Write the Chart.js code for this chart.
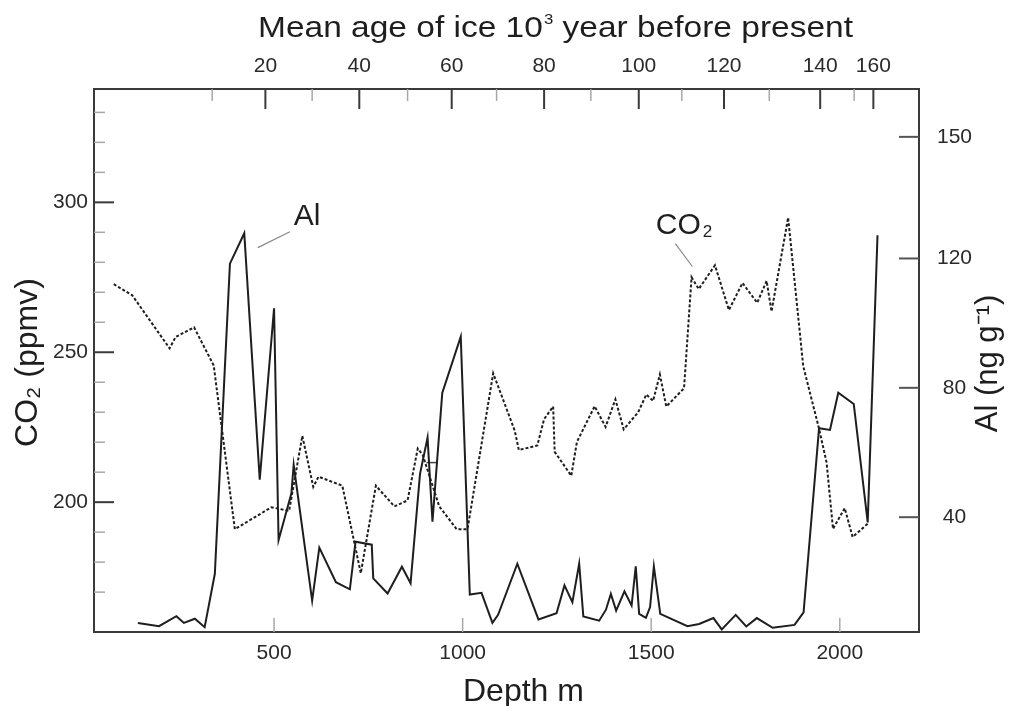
<!DOCTYPE html>
<html>
<head>
<meta charset="utf-8">
<script src="https://cdn.jsdelivr.net/npm/chart.js@4.4.0/dist/chart.umd.min.js"></script>
<style>
  html, body { margin: 0; padding: 0; background: #fff; }
</style>
</head>
<body>
<canvas id="chart" width="1014" height="706"></canvas>
<script>
// Al (ng g-1) vs depth (m), solid curve
const alDepth = [139, 195, 241, 261, 290, 316, 343, 383, 421, 462, 500, 512, 546, 552,
  601, 620, 664, 701, 716, 759, 763, 801, 839, 862, 887, 907, 920, 946, 995, 1019,
  1050, 1079, 1094, 1145, 1201, 1249, 1270, 1291, 1309, 1320, 1362, 1380, 1393, 1407,
  1429, 1448, 1459, 1468, 1486, 1497, 1507, 1524, 1596, 1627, 1665, 1687, 1724, 1752,
  1780, 1822, 1880, 1904, 1945, 1974, 1996, 2037, 2074, 2100];
const alValue = [7.3, 6.3, 9.4, 7.3, 8.6, 6.0, 22.5, 118.4, 127.8, 51.6, 104.6, 32.9, 47.4, 56.2,
  14.2, 30.6, 19.9, 17.7, 32.4, 31.5, 21.1, 16.4, 24.7, 19.6, 53.4, 64.6, 38.6, 78.4, 95.8, 16.1,
  16.6, 7.3, 9.8, 25.6, 8.4, 10.3, 18.9, 13.7, 25.6, 9.3, 8.0, 11.4, 16.3, 11.1,
  17.1, 12.7, 24.8, 10.1, 8.9, 12.2, 24.8, 10.1, 6.3, 7.0, 8.8, 5.3, 9.8, 6.2,
  8.8, 5.8, 6.7, 10.6, 67.5, 67.0, 78.5, 75.0, 38.4, 127.2];

// CO2 (ppmv) vs depth (m), dotted curve
const co2Depth = [75, 124, 223, 239, 288, 340, 396, 493, 540, 575, 604, 618, 681, 730,
  770, 819, 854, 881, 894, 938, 984, 1013, 1081, 1138, 1149, 1198, 1216, 1240,
  1244, 1288, 1303, 1350, 1379, 1405, 1427, 1465, 1487, 1505, 1523, 1540, 1587, 1607,
  1626, 1669, 1706, 1742, 1781, 1806, 1819, 1863, 1903, 1945, 1965, 1982, 2013, 2034, 2075];
const co2Value = [272.7, 269.0, 251.3, 255.1, 258.3, 245.6, 191.0, 198.3, 197.1, 222.1, 205.1, 208.5, 205.5, 176.3,
  205.5, 198.6, 200.6, 217.9, 215.8, 198.6, 191.0, 191.0, 243.0, 223.9, 217.4, 218.9, 227.7, 231.9,
  216.8, 208.8, 220.1, 232.0, 225.1, 234.3, 224.3, 229.9, 235.9, 233.8, 242.6, 231.9, 238.0, 275.0,
  271.1, 279.0, 264.1, 273.1, 266.5, 273.8, 263.6, 294.9, 245.4, 224.5, 213.2, 191.1, 198.0, 188.4, 192.9];

// little dash on the CO2 curve near 900 m
const markDepth = [904, 931];
const markValue = [213.2, 213.2];

// top axis: age (10^3 yr) and the depth where it falls
const ageMajor = [20, 40, 60, 80, 100, 120, 140, 160];
const ageMajorDepth = [477, 726, 971, 1216, 1467, 1693, 1948, 2089];
const ageMinorDepth = [336, 601, 854, 1090, 1340, 1581, 1813, 2038];

const depthTicks = [500, 1000, 1500, 2000];
const co2Ticks = [200, 250, 300];
const co2MinorTicks = [170, 180, 190, 210, 220, 230, 240, 260, 270, 280, 290, 310, 320, 330];
// right axis: the "150" tick sits higher than a linear scale would put it in the source
const alTickLabels = ['40', '80', '120', '150'];
const alTickAt = [40, 80, 120, 157.6];

const FONT = "'Liberation Sans', Arial, Helvetica, sans-serif";
const INK = '#1e1e1e';
const AXIS = '#3a3a3a';
const TICKFONT = { family: FONT, size: 21 };

const toXY = (xs, ys) => xs.map((x, i) => ({ x: x, y: ys[i] }));

const overlay = {
  id: 'overlay',
  afterDatasetsDraw(chart) {
    const { ctx, chartArea: a, scales } = chart;
    const line = (x1, y1, x2, y2, color, w) => {
      ctx.beginPath();
      ctx.strokeStyle = color;
      ctx.lineWidth = w;
      ctx.moveTo(x1, y1);
      ctx.lineTo(x2, y2);
      ctx.stroke();
    };
    ctx.save();
    // inward ticks
    depthTicks.forEach(v => {
      const x = scales.x.getPixelForValue(v);
      line(x, a.bottom, x, a.bottom - 14, '#a8a8a8', 1.5);
    });
    ageMajorDepth.forEach(d => {
      const x = scales.x.getPixelForValue(d);
      line(x, a.top, x, a.top + 20, AXIS, 2);
    });
    ageMinorDepth.forEach(d => {
      const x = scales.x.getPixelForValue(d);
      line(x, a.top, x, a.top + 12, '#a8a8a8', 1.5);
    });
    co2Ticks.forEach(v => {
      const y = scales.y.getPixelForValue(v);
      line(a.left, y, a.left + 20, y, AXIS, 2);
    });
    co2MinorTicks.forEach(v => {
      const y = scales.y.getPixelForValue(v);
      line(a.left, y, a.left + 11, y, '#a8a8a8', 1.5);
    });
    alTickAt.forEach(v => {
      const y = scales.y2.getPixelForValue(v);
      line(a.right, y, a.right - 20, y, '#555', 2);
    });

    // curve labels with leader lines
    const X = scales.x, Y = scales.y;
    line(X.getPixelForValue(457), Y.getPixelForValue(284.9), X.getPixelForValue(542), Y.getPixelForValue(290.2), '#8a8a8a', 1.2);
    line(X.getPixelForValue(1564), Y.getPixelForValue(286.2), X.getPixelForValue(1609), Y.getPixelForValue(278.6), '#8a8a8a', 1.2);
    ctx.fillStyle = INK;
    ctx.textBaseline = 'alphabetic';
    ctx.textAlign = 'left';
    ctx.font = '30px ' + FONT;
    ctx.fillText('Al', X.getPixelForValue(552), Y.getPixelForValue(292.6));
    const cX = X.getPixelForValue(1512), cY = Y.getPixelForValue(289.6);
    ctx.fillText('CO', cX, cY);
    const w = ctx.measureText('CO').width;
    ctx.font = '17px ' + FONT;
    ctx.fillText('2', cX + w + 2, cY + 3);
    ctx.restore();
  },
  afterDraw(chart) {
    const { ctx, chartArea: a } = chart;
    const midY = (a.top + a.bottom) / 2;
    ctx.save();
    ctx.fillStyle = INK;
    ctx.textBaseline = 'alphabetic';
    ctx.textAlign = 'left';

    // top title, a little wider than plain Arial in the source
    ctx.save();
    ctx.translate(258, 37);
    ctx.font = '30px ' + FONT;
    const t1 = 'Mean age of ice 10', t2 = ' year before present';
    const w1 = ctx.measureText(t1).width, w2 = ctx.measureText(t2).width;
    ctx.font = '15px ' + FONT;
    const w3 = ctx.measureText('3').width;
    ctx.scale(595 / (w1 + w2 + w3 + 1), 1);
    ctx.fillText('3', w1 + 1, -13);
    ctx.font = '30px ' + FONT;
    ctx.fillText(t1, 0, 0);
    ctx.fillText(t2, w1 + w3 + 1, 0);
    ctx.restore();

    // bottom title
    ctx.font = '32px ' + FONT;
    ctx.fillText('Depth m', 463, 701);

    // left title, reads bottom to top
    ctx.save();
    ctx.translate(28, midY + 2);
    ctx.rotate(-Math.PI / 2);
    ctx.textAlign = 'center';
    ctx.textBaseline = 'middle';
    ctx.font = '32px ' + FONT;
    ctx.fillText('CO\u2082 (ppmv)', 0, 0);
    ctx.restore();

    // right title, also bottom to top
    ctx.save();
    ctx.translate(a.right + 69, midY + 3);
    ctx.rotate(-Math.PI / 2);
    ctx.textAlign = 'center';
    ctx.textBaseline = 'middle';
    ctx.font = '31px ' + FONT;
    ctx.fillText('Al (ng g\u207B\u00B9)', 0, 0);
    ctx.restore();
    ctx.restore();
  }
};

new Chart(document.getElementById('chart'), {
  type: 'line',
  data: {
    datasets: [
      {
        label: 'CO2',
        data: toXY(co2Depth, co2Value),
        yAxisID: 'y',
        borderColor: INK,
        borderWidth: 2,
        borderDash: [3, 2],
        pointRadius: 0,
        tension: 0,
        fill: false
      },
      {
        label: 'Al',
        data: toXY(alDepth, alValue),
        yAxisID: 'y2',
        borderColor: INK,
        borderWidth: 2,
        pointRadius: 0,
        tension: 0,
        fill: false
      },
      {
        label: 'mark',
        data: toXY(markDepth, markValue),
        yAxisID: 'y',
        borderColor: '#444',
        borderWidth: 1.5,
        pointRadius: 0
      }
    ]
  },
  options: {
    responsive: false,
    animation: false,
    layout: { padding: 0 },
    plugins: { legend: { display: false }, tooltip: { enabled: false } },
    scales: {
      x: {
        type: 'linear',
        position: 'bottom',
        min: 22.6,
        max: 2210,
        grid: { display: false, drawTicks: false },
        border: { display: true, color: AXIS, width: 2 },
        afterBuildTicks: s => { s.ticks = depthTicks.map(v => ({ value: v })); },
        ticks: { font: TICKFONT, color: '#2a2a2a', padding: 9, maxRotation: 0, autoSkip: false, callback: v => String(v) },
        afterFit: s => { s.height = 74; }
      },
      xTop: {
        type: 'linear',
        position: 'top',
        min: 22.6,
        max: 2210,
        grid: { display: false, drawTicks: false },
        border: { display: true, color: AXIS, width: 2 },
        afterBuildTicks: s => { s.ticks = ageMajorDepth.map(v => ({ value: v })); },
        ticks: {
          font: TICKFONT, color: '#2a2a2a', padding: 10, maxRotation: 0, autoSkip: false,
          callback: (v, i) => String(ageMajor[i])
        },
        afterFit: s => { s.height = 89; }
      },
      y: {
        type: 'linear',
        position: 'left',
        min: 156.7,
        max: 337.8,
        grid: { display: false, drawTicks: false },
        border: { display: true, color: AXIS, width: 2 },
        afterBuildTicks: s => { s.ticks = co2Ticks.map(v => ({ value: v })); },
        ticks: { font: TICKFONT, color: '#2a2a2a', padding: 6 },
        afterFit: s => { s.width = 94; }
      },
      y2: {
        type: 'linear',
        position: 'right',
        min: 4.5,
        max: 172.4,
        grid: { display: false, drawTicks: false },
        border: { display: true, color: AXIS, width: 2 },
        afterBuildTicks: s => { s.ticks = alTickAt.map(v => ({ value: v })); },
        ticks: {
          font: TICKFONT, color: '#2a2a2a', padding: 18, crossAlign: 'center',
          callback: (v, i) => alTickLabels[i]
        },
        afterFit: s => { s.width = 95; }
      }
    }
  },
  plugins: [overlay]
});
</script>
</body>
</html>
